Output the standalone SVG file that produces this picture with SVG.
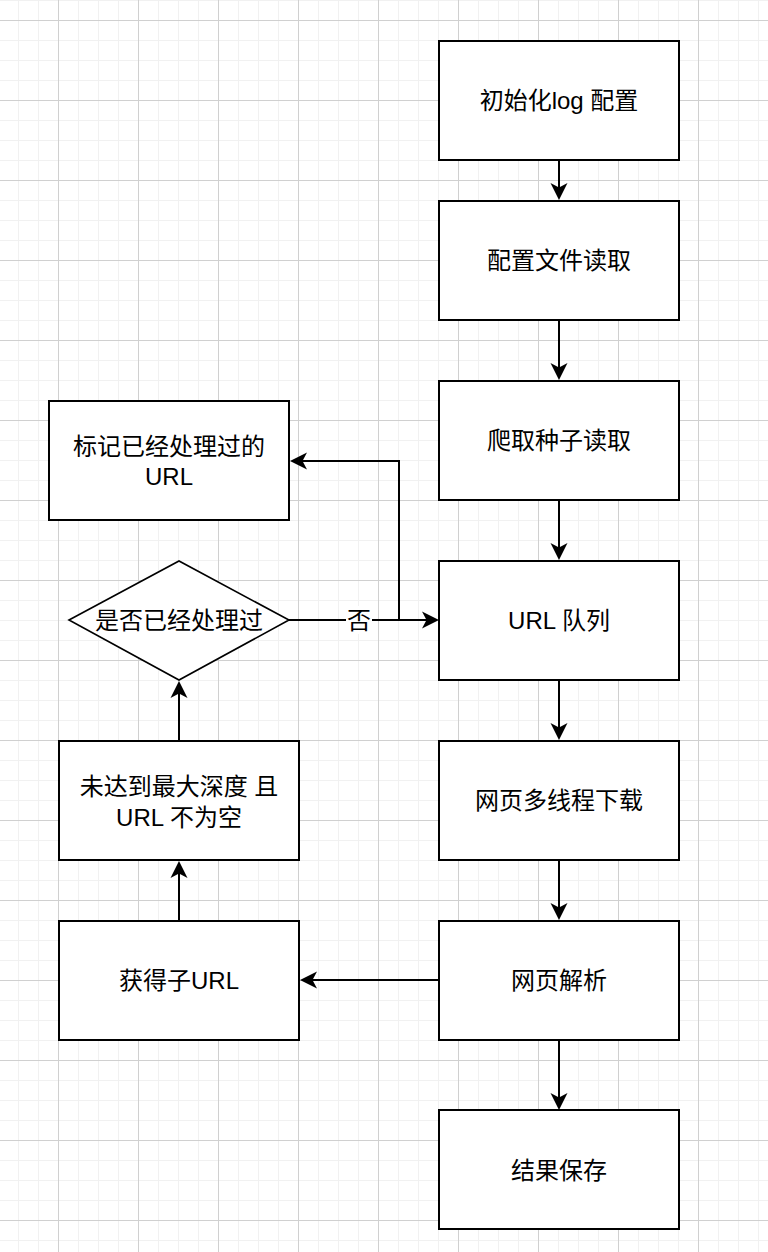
<svg xmlns="http://www.w3.org/2000/svg" width="768" height="1252" viewBox="0 0 768 1252">
<defs>
<pattern id="minor" width="20" height="20" patternUnits="userSpaceOnUse" x="-2" y="0">
<path d="M0,0 V20 M0,0 H20" fill="none" stroke="#f1f1f1" stroke-width="2"/>
</pattern>
<pattern id="major" width="80" height="80" patternUnits="userSpaceOnUse" x="58" y="20">
<path d="M0.5,0 V80 M0,0.5 H80" fill="none" stroke="#d0d0d0" stroke-width="1"/>
</pattern>
<marker id="arr" markerUnits="userSpaceOnUse" markerWidth="18" markerHeight="18" refX="12" refY="8.5" orient="auto" overflow="visible">
<path d="M17,8.5 L0,0 L4.5,8.5 L0,17 Z" fill="#000"/>
</marker>
<style>
.box{fill:#fff;stroke:#000;stroke-width:2}
.dia{fill:#fff;stroke:#000;stroke-width:1.6}
.t{font-family:"Liberation Sans","Noto Sans CJK SC",sans-serif;font-size:24px;fill:#000;text-anchor:middle}
.e{fill:none;stroke:#000;stroke-width:2;marker-end:url(#arr)}
</style>
</defs>
<rect width="768" height="1252" fill="#fff"/>
<rect width="768" height="1252" fill="url(#minor)"/>
<rect width="768" height="1252" fill="url(#major)"/>

<g id="connectors">
<path class="e" d="M559,161 V195"/>
<path class="e" d="M559,321 V375"/>
<path class="e" d="M559,501 V555"/>
<path class="e" d="M559,681 V735"/>
<path class="e" d="M559,861 V915"/>
<path class="e" d="M559,1041 V1105"/>
<path class="e" d="M438,980 H305"/>
<path class="e" d="M179,920 V866"/>
<path class="e" d="M179,740 V686"/>
<path class="e" d="M289,620 H434"/>
<path class="e" d="M399,620 V461 H295"/>
<rect x="346" y="606" width="26" height="28" fill="#fff"/>
<text class="t" x="359" y="628.5">否</text>
</g>

<g id="n1"><rect class="box" x="439" y="41" width="240" height="119"/><text class="t" x="559" y="109">初始化log 配置</text></g>
<g id="n2"><rect class="box" x="439" y="201" width="240" height="119"/><text class="t" x="559" y="269">配置文件读取</text></g>
<g id="n3"><rect class="box" x="439" y="381" width="240" height="119"/><text class="t" x="559" y="449">爬取种子读取</text></g>
<g id="n4"><rect class="box" x="439" y="561" width="240" height="119"/><text class="t" x="559" y="629">URL 队列</text></g>
<g id="n5"><rect class="box" x="439" y="741" width="240" height="119"/><text class="t" x="559" y="809">网页多线程下载</text></g>
<g id="n6"><rect class="box" x="439" y="921" width="240" height="119"/><text class="t" x="559" y="989">网页解析</text></g>
<g id="n7"><rect class="box" x="439" y="1110" width="240" height="119"/><text class="t" x="559" y="1178.5">结果保存</text></g>
<g id="n8"><rect class="box" x="49" y="401" width="240" height="119"/><text class="t" x="169" y="454.5">标记已经处理过的</text><text class="t" x="169" y="485">URL</text></g>
<g id="n9"><polygon class="dia" points="69,620 179,561 289,620 179,680"/><text class="t" x="179" y="628.5">是否已经处理过</text></g>
<g id="n10"><rect class="box" x="59" y="741" width="240" height="119"/><text class="t" x="179" y="794.5">未达到最大深度 且</text><text class="t" x="179" y="825.5">URL 不为空</text></g>
<g id="n11"><rect class="box" x="59" y="921" width="240" height="119"/><text class="t" x="179" y="989">获得子URL</text></g>
</svg>
